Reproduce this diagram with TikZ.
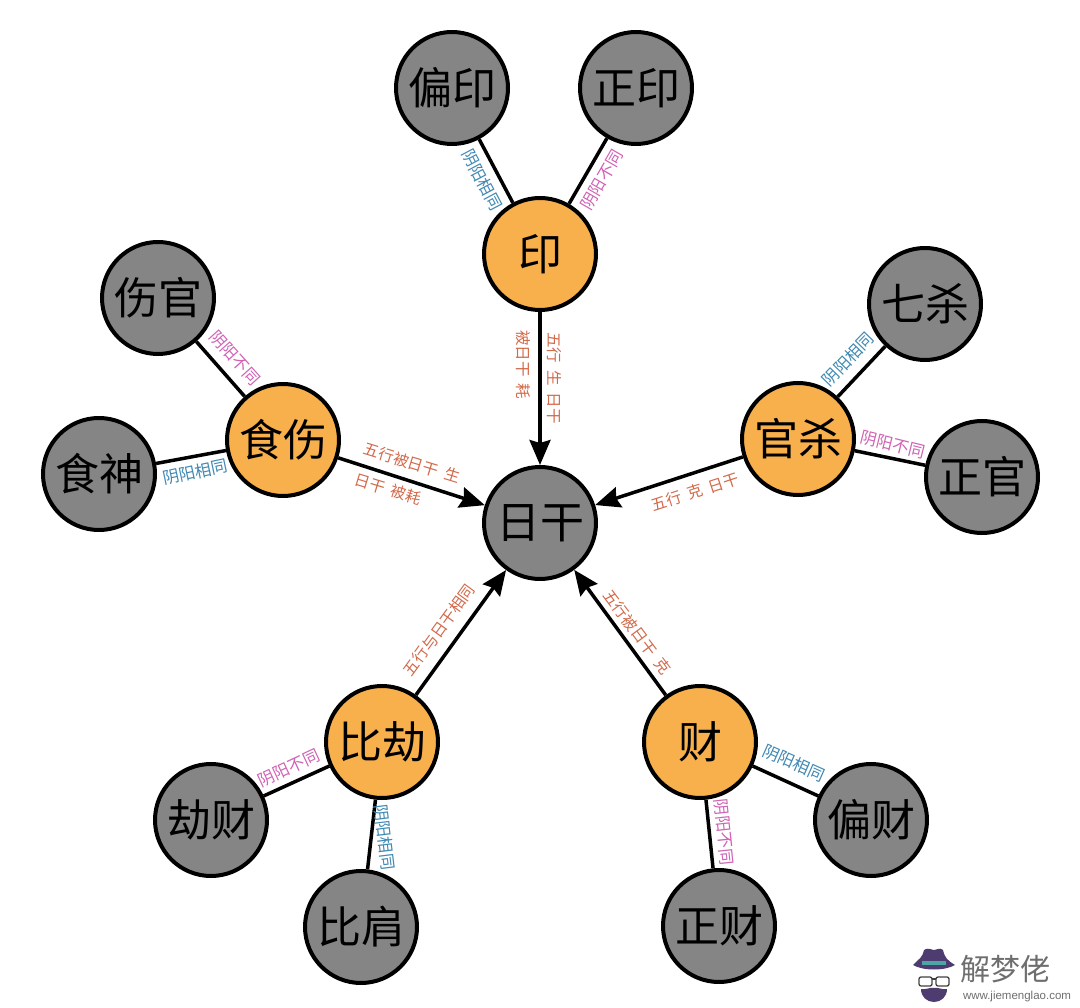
\documentclass[tikz,border=0pt]{standalone}
\usepackage{fontspec}
\setmainfont{Noto Sans CJK SC}
\newfontfamily\urlfont{Liberation Sans}
\usepackage{xcolor}
\usetikzlibrary{arrows.meta}
\definecolor{nodegray}{HTML}{858585}
\definecolor{nodeorange}{HTML}{F8B04C}
\definecolor{relred}{HTML}{D2694A}
\definecolor{relblue}{HTML}{3F88B2}
\definecolor{relpink}{HTML}{CF62B4}
\definecolor{hatpurple}{HTML}{4E3B70}
\definecolor{markgray}{HTML}{6E6E6E}
\newcommand{\relgap}{\kern7pt}

\begin{document}
\begin{tikzpicture}[
        x=1pt, y=-1pt,
        god/.style={draw=black, circle, line width=4pt, minimum size=112pt, inner sep=0pt, align=center, font=\fontsize{44}{46}\selectfont},
        hub/.style={god, fill=nodegray},
        leaf/.style={god, fill=nodegray},
        group/.style={god, fill=nodeorange},
        redrel/.style={inner sep=0pt, text=relred, font=\fontsize{15.5}{16}\selectfont},
        bluerel/.style={inner sep=0pt, text=relblue, font=\fontsize{16.5}{17}\selectfont},
        pinkrel/.style={inner sep=0pt, text=relpink, font=\fontsize{16.5}{17}\selectfont},
        arr/.style={-{Stealth[length=25pt, width=21pt, inset=3pt]}, line width=3.5pt},
        link/.style={line width=3.5pt}
    ]
        \useasboundingbox (0,0) rectangle (1080,1008);
        \node[hub] (rigan) at (540,523) {日干};
        \node[group] (yin) at (540,254) {印};
        \node[group] (shishang) at (283,440) {食伤};
        \node[group] (guansha) at (798,439) {官杀};
        \node[group] (bijie) at (382,742) {比劫};
        \node[group] (cai) at (700,742) {财};
        \node[leaf] (pianyin) at (452,88) {偏印};
        \node[leaf] (zhengyin) at (636,88) {正印};
        \node[leaf] (shangguan) at (158,298) {伤官};
        \node[leaf] (shishen) at (99,474) {食神};
        \node[leaf] (qisha) at (925,304) {七杀};
        \node[leaf] (zhengguan) at (982,477) {正官};
        \node[leaf] (jiecai) at (211,820) {劫财};
        \node[leaf] (bijian) at (361,927) {比肩};
        \node[leaf] (piancai) at (871,820) {偏财};
        \node[leaf] (zhengcai) at (719,926) {正财};

        \draw[arr] (yin) -- (rigan);
        \draw[arr] (shishang) -- (rigan);
        \draw[arr] (guansha) -- (rigan);
        \draw[arr] (bijie) -- (rigan);
        \draw[arr] (cai) -- (rigan);
        \draw[link] (pianyin) -- (yin);
        \draw[link] (zhengyin) -- (yin);
        \draw[link] (shangguan) -- (shishang);
        \draw[link] (shishen) -- (shishang);
        \draw[link] (qisha) -- (guansha);
        \draw[link] (zhengguan) -- (guansha);
        \draw[link] (jiecai) -- (bijie);
        \draw[link] (bijian) -- (bijie);
        \draw[link] (piancai) -- (cai);
        \draw[link] (zhengcai) -- (cai);

        \node[redrel, rotate=-90] (lyinright) at (554,378) {五行\relgap 生\relgap 日干};
        \node[redrel, rotate=-90] (lyinleft) at (523,365) {被日干\relgap 耗};
        \node[redrel, rotate=-17] (lshiup) at (412,463) {五行被日干\relgap 生};
        \node[redrel, rotate=-17] (lshidown) at (388,489) {日干\relgap 被耗};
        \node[redrel, rotate=18] (lguan) at (695,492) {五行\relgap 克\relgap 日干};
        \node[redrel, rotate=54] (lbi) at (439,630) {五行与日干相同};
        \node[redrel, rotate=-53] (lcai) at (637,632) {五行被日干\relgap 克};
        \node[bluerel, rotate=-62] (lpianyin) at (482,180) {阴阳相同};
        \node[pinkrel, rotate=60] (lzhengyin) at (602,180) {阴阳不同};
        \node[pinkrel, rotate=-48] (lshangguan) at (235,358) {阴阳不同};
        \node[bluerel, rotate=12] (lshishen) at (195,472) {阴阳相同};
        \node[bluerel, rotate=46] (lqisha) at (848,359) {阴阳相同};
        \node[pinkrel, rotate=-14] (lzhengguan) at (893,445) {阴阳不同};
        \node[pinkrel, rotate=25] (ljiecai) at (289,768) {阴阳不同};
        \node[bluerel, rotate=-83] (lbijian) at (385,837) {阴阳相同};
        \node[bluerel, rotate=-24] (lpiancai) at (794,763) {阴阳相同};
        \node[pinkrel, rotate=-84] (lzhengcai) at (724,832) {阴阳不同};

        % watermark
        \fill[hatpurple] (913,965) .. controls (920,958) and (922,958) .. (924,950) .. controls (928,947) and (931,950) .. (934,950) .. controls (937,950) and (940,947) .. (943,950) .. controls (945,958) and (947,960) .. (955,965) .. controls (945,971) and (923,971) .. (913,965) -- cycle;
        \fill[teal!70!white] (922,961) rectangle (946,965);
        \draw[black!75, line width=1.3pt, rounded corners=2pt] (919,977) rectangle (932,986) (936,977) rectangle (949,986);
        \draw[black!75, line width=1.3pt] (932,979) -- (936,979);
        \fill[hatpurple] (921,989) .. controls (926,990) and (930,987) .. (934,988) .. controls (938,987) and (942,990) .. (947,989) .. controls (947,997) and (941,1002) .. (934,1002) .. controls (927,1002) and (921,997) .. (921,989) -- cycle;
        \node[inner sep=0pt, text=markgray, font=\fontsize{30}{31}\selectfont] (markname) at (1005,969) {解梦佬};
        \node[inner sep=0pt, text=markgray, font=\urlfont\fontsize{11.5}{12}\selectfont] (markurl) at (1017,997) {www.jiemenglao.com};
\end{tikzpicture}
\end{document}
